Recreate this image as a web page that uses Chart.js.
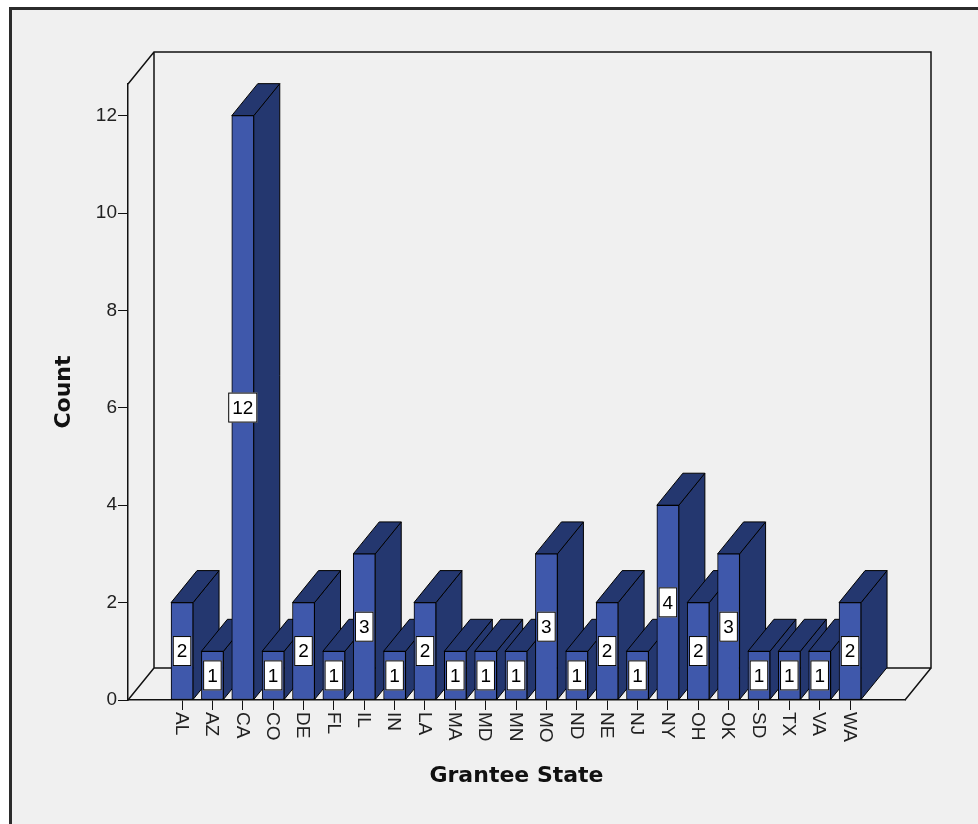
<!DOCTYPE html>
<html>
<head>
<meta charset="utf-8">
<script src="https://cdn.jsdelivr.net/npm/chart.js@4.4.1/dist/chart.umd.min.js"></script>
<style>
  html, body { margin: 0; padding: 0; background: #fff; overflow: hidden; }
  #frame {
    position: absolute; left: 9px; top: 7px; width: 1000px; height: 850px;
    border-left: 3px solid #2b2b2b; border-top: 3px solid #2b2b2b; background: #f0f0f0;
  }
  #chart { position: absolute; left: 0; top: 0; }
</style>
</head>
<body>
<div id="frame"></div>
<canvas id="chart" width="978" height="824"></canvas>
<script>
var states = ["AL", "AZ", "CA", "CO", "DE", "FL", "IL", "IN", "LA", "MA", "MD", "MN",
              "MO", "ND", "NE", "NJ", "NY", "OH", "OK", "SD", "TX", "VA", "WA"];
var counts = [2, 1, 12, 1, 2, 1, 3, 1, 2, 1, 1, 1, 3, 1, 2, 1, 4, 2, 3, 1, 1, 1, 2];
var yTicks = [0, 2, 4, 6, 8, 10, 12];

var depth = { dx: 26, dy: -32 };
var frontColor = "#3f58ab";
var sideColor = "#24376f";
var tickFont = "19px 'Liberation Sans', Arial, sans-serif";
var titleFont = { family: "'DejaVu Sans', Verdana, sans-serif", size: 22, weight: "bold" };

function fillPoly(ctx, pts, color) {
  ctx.beginPath();
  ctx.moveTo(pts[0][0], pts[0][1]);
  for (var i = 1; i < pts.length; i++) ctx.lineTo(pts[i][0], pts[i][1]);
  ctx.closePath();
  ctx.fillStyle = color;
  ctx.fill();
  ctx.stroke();
}

// back walls, floor outline and the side/top faces of each bar
var box3d = {
  id: "box3d",
  beforeDatasetsDraw: function (chart) {
    var ctx = chart.ctx, a = chart.chartArea;
    var dx = depth.dx, dy = depth.dy;
    ctx.save();
    ctx.strokeStyle = "#111";
    ctx.lineWidth = 1.5;
    ctx.beginPath();
    ctx.moveTo(a.left, a.top); ctx.lineTo(a.left + dx, a.top + dy);
    ctx.lineTo(a.right + dx, a.top + dy); ctx.lineTo(a.right + dx, a.bottom + dy);
    ctx.lineTo(a.left + dx, a.bottom + dy); ctx.lineTo(a.left + dx, a.top + dy);
    ctx.moveTo(a.left, a.bottom); ctx.lineTo(a.left + dx, a.bottom + dy);
    ctx.moveTo(a.right, a.bottom); ctx.lineTo(a.right + dx, a.bottom + dy);
    ctx.stroke();

    ctx.lineWidth = 1;
    ctx.strokeStyle = "#000";
    chart.getDatasetMeta(0).data.forEach(function (bar) {
      var p = bar.getProps(["x", "y", "base", "width"], true);
      var l = p.x - p.width / 2, r = p.x + p.width / 2;
      fillPoly(ctx, [[r, p.y], [r + dx, p.y + dy], [r + dx, p.base + dy], [r, p.base]], sideColor);
      fillPoly(ctx, [[l, p.y], [l + dx, p.y + dy], [r + dx, p.y + dy], [r, p.y]], sideColor);
    });
    ctx.restore();
  },
  afterDatasetsDraw: function (chart) {
    var ctx = chart.ctx, a = chart.chartArea;
    var xScale = chart.scales.x;
    ctx.save();
    ctx.font = tickFont;
    ctx.lineWidth = 1;
    ctx.strokeStyle = "#000";
    // value boxes in the middle of each bar
    chart.getDatasetMeta(0).data.forEach(function (bar, i) {
      var p = bar.getProps(["x", "y", "base"], true);
      var text = String(counts[i]);
      var w = ctx.measureText(text).width + 8, h = 30;
      var cy = (p.y + p.base) / 2;
      ctx.fillStyle = "#fff";
      ctx.fillRect(p.x - w / 2, cy - h / 2, w, h);
      ctx.strokeRect(p.x - w / 2 + 0.5, cy - h / 2 + 0.5, w - 1, h - 1);
      ctx.fillStyle = "#000";
      ctx.textAlign = "center";
      ctx.textBaseline = "middle";
      ctx.fillText(text, p.x, cy + 1);
    });
    // category labels, turned to read downwards
    ctx.fillStyle = "#222";
    ctx.textAlign = "left";
    ctx.textBaseline = "middle";
    states.forEach(function (s, i) {
      ctx.save();
      ctx.translate(xScale.getPixelForValue(i), a.bottom + 12);
      ctx.rotate(Math.PI / 2);
      ctx.fillText(s, 0, 1);
      ctx.restore();
    });
    ctx.restore();
  }
};

new Chart(document.getElementById("chart"), {
  type: "bar",
  data: {
    datasets: [{
      data: counts.map(function (v, i) { return { x: i, y: v }; }),
      backgroundColor: frontColor,
      borderColor: "#000",
      borderWidth: 1,
      borderSkipped: false,
      barThickness: 22
    }]
  },
  options: {
    responsive: false,
    animation: false,
    devicePixelRatio: 1,
    layout: { padding: { left: 47, top: 84, right: 73, bottom: 31 } },
    plugins: { legend: { display: false }, tooltip: { enabled: false } },
    scales: {
      x: {
        type: "linear",
        offset: false,
        min: -1.78,
        max: 23.81,
        afterBuildTicks: function (scale) {
          scale.ticks = states.map(function (s, i) { return { value: i }; });
        },
        afterFit: function (scale) { scale.height = 93; },
        ticks: { display: false },
        grid: { display: true, offset: false, drawOnChartArea: false, drawTicks: true, tickLength: 10, color: "#111" },
        border: { display: true, color: "#111", width: 1.5 },
        title: { display: true, text: "Grantee State", color: "#111", font: titleFont }
      },
      y: {
        min: 0,
        max: 12.65,
        afterBuildTicks: function (scale) {
          scale.ticks = yTicks.map(function (v) { return { value: v }; });
        },
        afterFit: function (scale) { scale.width = 81; },
        ticks: { padding: 1, color: "#222", font: { family: "'Liberation Sans', Arial, sans-serif", size: 19 } },
        grid: { display: true, drawOnChartArea: false, drawTicks: true, tickLength: 10, color: "#111" },
        border: { display: true, color: "#111", width: 1.5 },
        title: { display: true, text: "Count", color: "#111", font: titleFont }
      }
    }
  },
  plugins: [box3d]
});
</script>
</body>
</html>
